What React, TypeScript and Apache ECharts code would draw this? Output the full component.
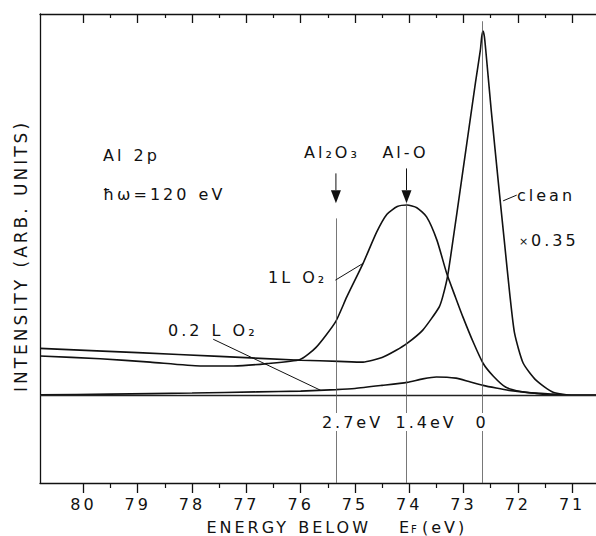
import React, { useEffect, useRef } from "react";
import * as echarts from "echarts";

// ---- axis ranges ----
const X_MIN = 70.56;
const X_MAX = 80.8;
const Y_MIN = -23;
const Y_MAX = 100;

const majorTicks = [71, 72, 73, 74, 75, 76, 77, 78, 79, 80];
const minorTicks = [71.5, 72.5, 73.5, 74.5, 75.5, 76.5, 77.5, 78.5, 79.5];

// ---- clean surface (x 0.35) ----
const cleanEnergy = [80.8, 79.0, 77.5, 76.0, 75.3, 74.85, 74.5, 74.24, 74.04, 73.75, 73.45, 73.38, 73.29, 73.12, 72.94, 72.78, 72.69, 72.665, 72.64, 72.615, 72.59, 72.49, 72.35, 72.25, 72.15, 72.06, 71.9, 71.66, 71.35, 70.98, 70.56];
const cleanIntensity = [12.3, 11.2, 10.2, 9.2, 8.9, 8.7, 9.9, 11.8, 13.6, 17.1, 23.1, 26.0, 31.5, 48.0, 66.0, 82.0, 90.5, 94.0, 95.5, 94.0, 90.5, 74.8, 54.6, 40.7, 26.8, 16.3, 8.4, 3.9, 0.8, 0.0, 0.0];

// ---- 1 L O2 ----
const oneLEnergy = [80.8, 79.69, 78.77, 77.85, 77.24, 76.62, 76.01, 75.72, 75.36, 75.15, 74.85, 74.6, 74.41, 74.22, 74.04, 73.86, 73.68, 73.49, 73.31, 73.15, 73.01, 72.82, 72.64, 72.45, 72.22, 71.95, 71.67, 71.3, 70.56];
const oneLIntensity = [10.3, 9.6, 8.7, 7.7, 7.7, 8.3, 9.4, 12.5, 19.2, 25.8, 34.6, 42.8, 47.5, 49.5, 49.9, 49.2, 46.8, 40.7, 32.0, 25.8, 20.5, 13.9, 8.4, 5.0, 2.1, 1.0, 0.5, 0.0, 0.0];

// ---- 0.2 L O2 ----
const pointTwoLEnergy = [80.8, 79.5, 78.0, 76.8, 76.0, 75.35, 75.0, 74.5, 74.04, 73.75, 73.5, 73.14, 72.9, 72.64, 72.4, 72.16, 71.8, 71.35, 71.0, 70.56];
const pointTwoLIntensity = [0.1, 0.3, 0.6, 0.9, 1.1, 1.5, 1.8, 2.6, 3.4, 4.3, 4.8, 4.5, 3.6, 2.6, 1.9, 1.3, 0.7, 0.3, 0.0, 0.0];

// ---- reference lines (2.7 eV, 1.4 eV, 0) ----
const refLineEnergy = [75.35, 74.05, 72.66];
const refLineTop = [46.4, 50.3, 98.1];
const refLineLabels = ["2.7eV", "1.4eV", "0"];
const refLabelOffset = [-14, -11, 0];
const refLabelAlign = ["left", "left", "center"];

// ---- peak arrows ----
const arrowEnergy = [75.35, 74.05];
const arrowStemTop = [58.2, 59.5];
const arrowBase = 53.8;
const arrowTip = 50.4;
const arrowLabels = ["Al₂O₃", "Al-O"];
const arrowLabelOffset = [-4, -1];

// ---- leader lines: [E1, I1, E2, I2] ----
const leaderOneL = [75.36, 30.2, 74.85, 34.6];
const leaderPointTwoL = [77.61, 14.7, 75.63, 1.3];
const leaderClean = [72.27, 51.0, 72.02, 52.5];

const FONT = "'DejaVu Sans', sans-serif";
const INK = "#111";

const pairs = (xs: number[], ys: number[]) => xs.map((x, i) => [x, ys[i]]);

export default function App() {
  const ref = useRef<HTMLDivElement>(null);

  useEffect(() => {
    const el = ref.current;
    if (!el) return;
    const chart = echarts.init(el, null, { renderer: "svg" });

    const baseX = {
      type: "value",
      min: X_MIN,
      max: X_MAX,
      inverse: true,
      splitLine: { show: false },
      axisLabel: { show: false },
    };

    const curve = (name: string, xs: number[], ys: number[], extra: any = {}) => ({
      name,
      type: "line",
      xAxisIndex: 0,
      yAxisIndex: 0,
      data: pairs(xs, ys),
      symbol: "none",
      smooth: 0.2,
      silent: true,
      lineStyle: { color: INK, width: 1.6 },
      ...extra,
    });

    chart.setOption({
      animation: false,
      backgroundColor: "#fff",
      grid: { left: 40, right: 0, top: 14, bottom: 53 },
      xAxis: [
        {
          ...baseX,
          position: "bottom",
          axisLine: { show: true, onZero: false, lineStyle: { color: INK, width: 1.3 } },
          axisTick: { show: true, inside: false, length: 10, customValues: majorTicks, lineStyle: { color: INK, width: 1.3 } },
          axisLabel: { show: true, customValues: majorTicks, fontSize: 16, fontFamily: FONT, color: INK, margin: 13 },
        },
        {
          ...baseX,
          position: "bottom",
          axisLine: { show: false, onZero: false },
          axisTick: { show: true, inside: false, length: 5, customValues: minorTicks, lineStyle: { color: INK, width: 1.2 } },
        },
        {
          ...baseX,
          position: "top",
          axisLine: { show: true, onZero: false, lineStyle: { color: INK, width: 1.3 } },
          axisTick: { show: true, inside: true, length: 9, customValues: majorTicks, lineStyle: { color: INK, width: 1.3 } },
        },
        {
          ...baseX,
          position: "top",
          axisLine: { show: false, onZero: false },
          axisTick: { show: true, inside: true, length: 4, customValues: minorTicks, lineStyle: { color: INK, width: 1.2 } },
        },
      ],
      yAxis: {
        type: "value",
        min: Y_MIN,
        max: Y_MAX,
        axisLine: { show: true, onZero: false, lineStyle: { color: INK, width: 1.3 } },
        axisTick: { show: false },
        axisLabel: { show: false },
        splitLine: { show: false },
      },
      series: [
        curve("clean", cleanEnergy, cleanIntensity, {
          markLine: {
            silent: true,
            symbol: ["none", "none"],
            label: { show: false },
            animation: false,
            data: [
              { yAxis: 0, lineStyle: { color: "#222", width: 1.3, type: "solid" } },
              ...refLineEnergy.map((e, i) => [
                { coord: [e, refLineTop[i]], lineStyle: { color: "#555", width: 0.8, type: "solid" } },
                { coord: [e, Y_MIN] },
              ]),
            ],
          },
        }),
        curve("1L O2", oneLEnergy, oneLIntensity),
        curve("0.2L O2", pointTwoLEnergy, pointTwoLIntensity),
      ],
    });

    const p = (e: number, v: number) =>
      chart.convertToPixel({ xAxisIndex: 0, yAxisIndex: 0 }, [e, v]) as number[];

    const txt = (text: string, x: number, y: number, opts: any = {}, elOpts: any = {}) => ({
      type: "text",
      x,
      y,
      z: 50,
      silent: true,
      ...elOpts,
      style: {
        text,
        fill: INK,
        fontSize: opts.fontSize || 16,
        fontFamily: FONT,
        align: opts.align || "left",
        textAlign: opts.align || "left",
        verticalAlign: "middle",
        textVerticalAlign: "middle",
        ...(opts.bg ? { backgroundColor: "#fff", padding: [1, 0] } : {}),
      },
    });

    const seg = (a: number[], b: number[], w = 1) => ({
      type: "line",
      z: 50,
      silent: true,
      shape: { x1: a[0], y1: a[1], x2: b[0], y2: b[1] },
      style: { stroke: INK, lineWidth: w },
    });

    const leader = (l: number[]) => seg(p(l[0], l[1]), p(l[2], l[3]), 1);

    const elements: any[] = [];

    // arrows and labels above them
    arrowEnergy.forEach((e, i) => {
      const top = p(e, arrowStemTop[i]);
      const base = p(e, arrowBase);
      const tip = p(e, arrowTip);
      elements.push(seg(top, base, 1));
      elements.push({
        type: "polygon",
        z: 50,
        silent: true,
        shape: { points: [[base[0] - 5, base[1]], [base[0] + 5, base[1]], [tip[0], tip[1]]] },
        style: { fill: INK },
      });
      elements.push(txt(arrowLabels[i], top[0] + arrowLabelOffset[i], 152, { align: "center" }));
    });

    // labels under the baseline on the reference lines
    refLineEnergy.forEach((e, i) => {
      const at = p(e, 0);
      elements.push(txt(refLineLabels[i], at[0] + refLabelOffset[i], 422, { align: refLabelAlign[i], bg: true }));
    });

    // leader lines
    elements.push(leader(leaderOneL));
    elements.push(leader(leaderPointTwoL));
    elements.push(leader(leaderClean));

    // annotations
    elements.push(txt("Al 2p", 103, 155));
    elements.push(txt("ħω=120 eV", 103, 194));
    elements.push(txt("clean", 517, 195));
    elements.push(txt("×", 519, 241, { fontSize: 11 }));
    elements.push(txt("0.35", 531, 240));
    elements.push(txt("1L O₂", 268, 277));
    elements.push(txt("0.2 L O₂", 168, 330));

    // axis titles
    elements.push(txt("INTENSITY (ARB. UNITS)", 21, 256, { align: "center", fontSize: 17 }, { rotation: Math.PI / 2 }));
    elements.push(txt("ENERGY BELOW", 371, 527, { align: "right" }));
    elements.push(txt("E", 399, 527));
    elements.push(txt("F", 411, 529, { fontSize: 10 }));
    elements.push(txt("(eV)", 422, 527));

    chart.setOption({ graphic: { elements } });

    return () => chart.dispose();
  }, []);

  return (
    <div
      ref={ref}
      style={{
        position: "fixed",
        left: 0,
        top: 0,
        width: 596,
        height: 536,
        background: "#fff",
        letterSpacing: "3px",
        wordSpacing: "1px",
      }}
    />
  );
}
